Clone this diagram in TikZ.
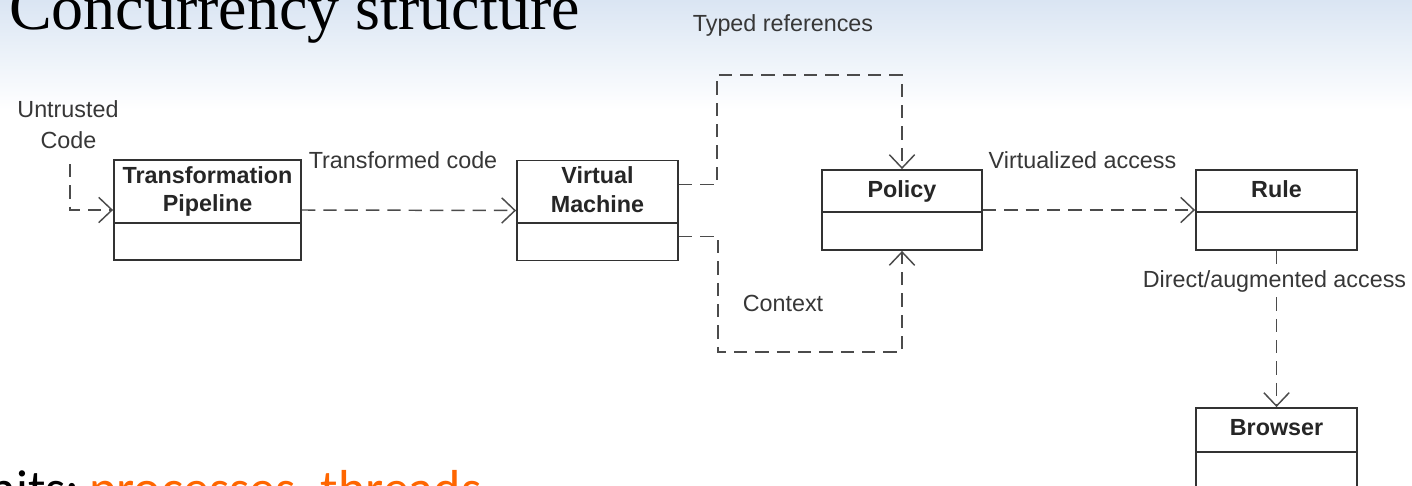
\documentclass[tikz,border=0pt]{standalone}
\usepackage{fontspec}
\setmainfont{Liberation Sans}
\newfontfamily\titlefont{Liberation Serif}
\newfontfamily\bodyfont{Carlito}
\usetikzlibrary{arrows.meta,calc}
\definecolor{bgblue}{RGB}{218,229,243}
\definecolor{bgmid}{RGB}{236,242,249}
\definecolor{orng}{RGB}{255,102,0}
\definecolor{boxline}{RGB}{50,50,50}
\definecolor{conline}{RGB}{75,75,75}
\definecolor{labtxt}{RGB}{55,55,55}
\begin{document}
\begin{tikzpicture}[x=0.75pt,y=-0.75pt,
  umlbox/.style={draw=boxline,line width=1.4pt,inner sep=0pt,fill=white},
  divider/.style={draw=boxline,line width=1.4pt},
  conn/.style={draw=conline,line width=1.1pt,dash pattern=on 10pt off 6pt},
  dep/.style={conn,-{Straight Barb[length=10pt,width=19pt]}},
  lab/.style={font=\fontsize{17.5}{21}\selectfont,text=labtxt,inner sep=0pt,anchor=base},
  boxtxt/.style={font=\fontsize{17.5}{21}\selectfont\bfseries,text=black!85,inner sep=0pt,anchor=base},
]
\useasboundingbox (0,0) rectangle (1412,485);
\clip (0,0) rectangle (1412,485);
% background
\fill[white] (0,0) rectangle (1412,485);
\shade[top color=bgblue,bottom color=bgmid] (0,0) rectangle (1412,55);
\shade[top color=bgmid,bottom color=white] (0,55) rectangle (1412,110);

% title
\node[font=\titlefont\fontsize{48}{56}\selectfont,anchor=base west,inner sep=0pt] (title) at (9,30) {Concurrency structure};

% boxes
\node[umlbox,minimum width=140.25pt,minimum height=75pt] (tp) at (207.5,210) {};
\draw[divider] (tp.west |- 0,223) -- (tp.east |- 0,223);
\node[boxtxt] (tp1) at (207.5,183) {Transformation};
\node[boxtxt] (tp2) at (207.5,211) {Pipeline};

\node[umlbox,minimum width=120.75pt,minimum height=75pt] (vm) at (597.5,210.5) {};
\draw[divider] (vm.west |- 0,223) -- (vm.east |- 0,223);
\node[boxtxt] (vm1) at (597.5,183) {Virtual};
\node[boxtxt] (vm2) at (597.5,212) {Machine};

\node[umlbox,minimum width=120pt,minimum height=60pt] (policy) at (902,210) {};
\draw[divider] (policy.west |- 0,212) -- (policy.east |- 0,212);
\node[boxtxt] (policyt) at (902,197) {Policy};

\node[umlbox,minimum width=120.75pt,minimum height=60pt] (rule) at (1276.5,210) {};
\draw[divider] (rule.west |- 0,212) -- (rule.east |- 0,212);
\node[boxtxt] (rulet) at (1276.5,197) {Rule};

\node[umlbox,minimum width=120.75pt,minimum height=76.5pt] (browser) at (1276.5,459) {};
\draw[divider] (browser.west |- 0,452) -- (browser.east |- 0,452);
\node[boxtxt] (browsert) at (1276.5,435) {Browser};

% labels
\node[lab] (uc1) at (68,117) {Untrusted};
\node[lab] (uc2) at (68.5,148) {Code};
\node[lab] (tc) at (403,168) {Transformed code};
\node[lab] (tr) at (783,32) {Typed references};
\node[lab] (va) at (1082.5,168) {Virtualized access};
\node[lab] (ctx) at (783,311) {Context};
\node[lab,inner ysep=4pt] (dal) at (1274.5,287) {Direct/augmented access};

% connectors
\coordinate (ucs) at (70,164);
\draw[dep] (ucs) |- (tp.west);
\draw[dep] (tp.east) -- (vm.west);
\coordinate (trc) at (717,75);
\draw[dep] ($(vm.east)+(0,-26)$) -| (trc) -| (policy.north);
\coordinate (ctc) at (718,352);
\draw[dep] ($(vm.east)+(0,26)$) -| (ctc) -| (policy.south);
\draw[dep] (policy.east) -- (rule.west);
\draw[conn] (rule.south) -- (rule.south |- dal.north);
\draw[dep] (rule.south |- dal.south) -- (browser.north);

% bottom text
\node[font=\bodyfont\fontsize{39}{46}\selectfont,anchor=base east,inner sep=0pt] (units) at (80,506) {Units:};
\node[font=\bodyfont\fontsize{39}{46}\selectfont,text=orng,anchor=base west,inner sep=0pt] (procs) at (89,506) {processes, threads};
\end{tikzpicture}
\end{document}
